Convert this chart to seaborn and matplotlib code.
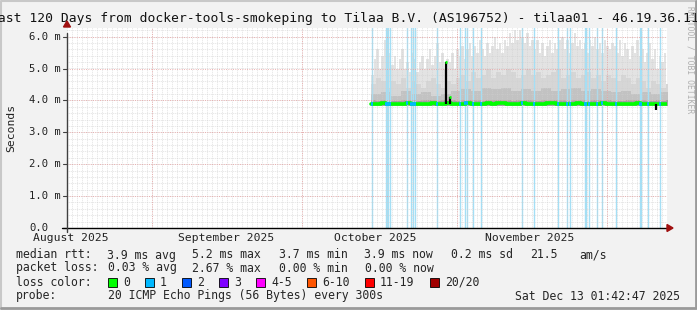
import matplotlib
matplotlib.use("Agg")
import numpy as np
import pandas as pd
import seaborn as sns
import matplotlib.pyplot as plt
from matplotlib.patches import Rectangle, Polygon
from matplotlib.lines import Line2D

# ---------------- data ----------------
title = "Last 120 Days from docker-tools-smokeping to Tilaa B.V. (AS196752) - tilaa01 - 46.19.36.115"
y_ticks = [0, 1, 2, 3, 4, 5, 6]
y_tick_labels = ["0.0", "1.0 m", "2.0 m", "3.0 m", "4.0 m", "5.0 m", "6.0 m"]
# days since window start (Aug 15 01:42)
month_starts = [16.93, 46.93, 77.93, 107.93]
month_labels = ["August 2025", "September 2025", "October 2025", "November 2025"]
month_label_days = [0.8, 31.8, 61.7, 92.6]

data_start = 60.8
# smoke envelope (ms), half-day bins from data_start
smoke_top = [4.8, 5.3, 5.6, 5.0, 5.4, 5.9, 5.2, 5.5, 5.1, 5.4, 5.0, 5.3, 5.6, 5.0, 5.2, 4.9, 5.5,
             5.3, 4.9, 5.2, 5.4, 5.0, 5.3, 5.6, 5.1, 5.4, 5.8, 5.2, 5.5, 5.0, 5.3,
             5.2, 5.5, 5.0, 5.6, 5.4, 5.7, 5.3, 5.6, 5.8, 5.4, 5.7, 5.5, 5.9, 5.6, 5.4, 5.8,
             5.5, 5.7, 6.0, 5.6, 5.8, 5.5, 5.9, 5.7, 6.1, 5.8,
             6.2, 5.9, 6.2, 6.0, 5.8, 6.1, 5.7, 5.9,
             5.6, 5.9, 5.5, 5.8, 5.4, 5.7, 5.9, 5.5, 5.8, 5.6, 5.9,
             6.0, 5.6, 5.9, 5.5, 5.8, 6.1, 5.7, 5.9, 5.6, 5.8, 5.5, 5.9, 5.7, 6.0, 5.6, 5.8,
             5.5, 5.9, 5.7, 5.6, 5.8,
             5.7, 5.5, 5.9, 5.4, 5.8, 5.6, 5.3, 5.7, 5.5, 5.9, 5.4, 5.6, 5.2, 5.5, 5.8, 5.3,
             5.6, 5.0, 5.4, 5.2, 5.5]
# denser smoke, one-day bins from data_start
smoke_mid = [4.5, 4.7, 4.6, 4.4, 4.6, 4.5, 4.7, 4.4, 4.6, 4.5, 4.4, 4.6, 4.7, 4.5, 4.4, 4.6, 4.5,
             4.7, 4.8, 4.6, 4.9, 4.7, 4.8, 5.0, 4.7, 4.9, 4.8, 5.0, 4.9, 4.7, 4.8, 5.0,
             4.8, 4.9, 4.7, 4.8, 4.9, 5.0, 4.7, 4.8, 4.9, 4.7, 4.8, 4.9, 4.7, 4.8, 4.6,
             4.8, 4.7, 4.6, 4.8, 4.7, 4.5, 4.7, 4.6, 4.4, 4.6, 4.5, 4.4, 4.5]
# inner smoke, two-day bins from data_start
smoke_low = [4.20, 4.25, 4.15, 4.30, 4.20, 4.25, 4.15, 4.20,
             4.30, 4.35, 4.30, 4.40, 4.35, 4.40, 4.30, 4.35, 4.30, 4.40, 4.30, 4.35, 4.40, 4.30, 4.35,
             4.30, 4.25, 4.30, 4.20, 4.25, 4.20, 4.25]
smoke_bottom = 3.82
# daily median rtt (ms) from data_start
median_rtt = [3.90, 3.89, 3.91, 3.90, 3.88, 3.89, 3.90, 3.91, 3.90, 3.89,
              3.90, 3.90, 3.91, 3.89, 3.90, 3.92, 3.90, 3.89, 3.90, 3.91,
              3.90, 3.90, 3.89, 3.91, 3.90, 3.92, 3.91, 3.90, 3.89, 3.90,
              3.91, 3.90, 3.90, 3.89, 3.90, 3.91, 3.92, 3.90, 3.90, 3.89,
              3.90, 3.91, 3.90, 3.89, 3.90, 3.90, 3.91, 3.90, 3.89, 3.88,
              3.89, 3.90, 3.90, 3.91, 3.90, 3.89, 3.88, 3.90, 3.89, 3.90]
median_spike_days = [75.8, 76.6, 117.8]
median_spike_vals = [5.2, 4.1, 3.7]
dark_spike_days = [69.6, 103.6]
dark_spike_tops = [6.2, 5.85]
# days with packet loss (1/20)
loss_days = [61.0, 63.8, 64.0, 64.2, 64.6, 68.0, 68.8, 69.2, 69.6, 74.0, 78.6, 79.6, 80.0,
             81.2, 82.8, 91.0, 93.4, 98.2, 100.0, 100.6, 103.6, 103.8, 104.4, 106.0, 107.0,
             109.8, 114.6, 114.8, 116.2, 118.6]

loss_colors = ["#00ff00", "#00b8ff", "#0059ff", "#7e00ff", "#ff00ff", "#ff5500", "#ff0000", "#a10000"]
loss_names = ["0", "1", "2", "3", "4-5", "6-10", "11-19", "20/20"]

stats_rtt = ["3.9 ms avg", "5.2 ms max", "3.7 ms min", "3.9 ms now", "0.2 ms sd", "21.5", "am/s"]
stats_loss = ["0.03 % avg", "2.67 % max", "0.00 % min", "0.00 % now"]
probe_text = "20 ICMP Echo Pings (56 Bytes) every 300s"
stamp = "Sat Dec 13 01:42:47 2025"

# ---------------- figure ----------------
sns.set_theme(style="white")
plt.rcParams["font.family"] = ["DejaVu Sans Mono", "DejaVu Sans"]

W, H = 697, 310
fig = plt.figure(figsize=(W / 100, H / 100), dpi=100)
fig.patch.set_facecolor("#f2f2f2")

def fx(px):
    return px / W

def fy(py):
    return 1 - py / H

L, R, T, B = 67, 667, 28, 228
ppm = 31.9
ax = fig.add_axes([fx(L), fy(B), (R - L) / W, (B - T) / H])
ax.set_facecolor("white")
ax.set_xlim(0, 120)
ax.set_ylim(0, (B - T) / ppm)
for s in ax.spines.values():
    s.set_visible(False)
ax.set_xticks([])
ax.set_yticks([])

# grid
days = np.arange(0, 121, 1)
ax.vlines(days, 0, 7, colors="#cfcfcf", lw=0.6, linestyles=(0, (0.8, 1.6)), zorder=4)
for yv in np.arange(0.2, 6.3, 0.2):
    ax.axhline(yv, color="#cfcfcf", lw=0.6, ls=(0, (0.8, 1.6)), zorder=4)
ax.vlines(month_starts, 0, 7, colors="#e8a0a0", lw=0.7, linestyles=(0, (0.8, 1.6)), zorder=4)
for yv in y_ticks[1:]:
    ax.axhline(yv, color="#e8a0a0", lw=0.7, ls=(0, (0.8, 1.6)), zorder=4)

# smoke
top = np.array(smoke_top)
edges = data_start + 0.5 * np.arange(len(top) + 1)
ax.fill_between(edges, smoke_bottom, np.append(top, top[-1]), step="post", color="#e3e3e3", lw=0, zorder=1)
mid = np.array(smoke_mid)
edges1 = data_start + 1.0 * np.arange(len(mid) + 1)
ax.fill_between(edges1, smoke_bottom, np.append(mid, mid[-1]), step="post", color="#d6d6d6", lw=0, zorder=1.1)
low = np.array(smoke_low)
edges2 = data_start + 2.0 * np.arange(len(low) + 1)
ax.fill_between(edges2, smoke_bottom, np.append(low, low[-1]), step="post", color="#c2c2c2", lw=0, zorder=1.2)
med = np.array(median_rtt)
medx = data_start + np.arange(len(med) + 1)
ax.fill_between(medx, med.min() - 0.05, np.append(med, med[-1]) + 0.1, step="post", color="#a0a0a0", lw=0, zorder=1.3)
ax.vlines(dark_spike_days, 3.9, dark_spike_tops, colors="#777777", lw=0.8, zorder=1.4)

# loss bars
ax.vlines(loss_days, 0, 7, colors="#a4dff5", lw=1.0, zorder=2)

# median
df = pd.DataFrame({"day": medx, "rtt": np.append(med, med[-1])})
sns.lineplot(data=df, x="day", y="rtt", ax=ax, color=loss_colors[0], lw=2.6,
             drawstyle="steps-post", zorder=5, legend=False)
loss_med = np.interp(loss_days, medx[:-1], med)
ax.hlines(loss_med, np.array(loss_days) - 0.25, np.array(loss_days) + 0.25, colors=loss_colors[1], lw=2.6, zorder=5.1)
ax.vlines(median_spike_days, 3.9, median_spike_vals, colors="black", lw=1.6, zorder=5.2)
ax.hlines(median_spike_vals[:2], np.array(median_spike_days[:2]) - 0.15, np.array(median_spike_days[:2]) + 0.15,
          colors=loss_colors[0], lw=2.0, zorder=5.3)
ax.set_xlabel("")
ax.set_ylabel("")

# axes lines and arrows
ax.add_line(Line2D([-1.0, 120.6], [0, 0], color="black", lw=1.0, clip_on=False, zorder=6))
ax.add_line(Line2D([0, 0], [-0.13, 6.1], color="#404040", lw=1.0, clip_on=False, zorder=6))
fig.patches.append(Polygon([[fx(667), fy(224.5)], [fx(667), fy(231.5)], [fx(673), fy(228)]],
                           closed=True, transform=fig.transFigure, color="#a01010", zorder=7))
fig.patches.append(Polygon([[fx(63.5), fy(27)], [fx(70.5), fy(27)], [fx(67), fy(21)]],
                           closed=True, transform=fig.transFigure, color="#a01010", zorder=7))

# y tick labels
ytr = ax.get_yaxis_transform()
for v, lab in zip(y_ticks, y_tick_labels):
    ax.text(-38 / 600, v, lab, transform=ytr, ha="left", va="center", fontsize=7.6, color="#222222")
    ax.add_line(Line2D([-4 / 600, 0], [v, v], transform=ytr, color="#404040", lw=0.8, clip_on=False))

# month labels
xtr = ax.get_xaxis_transform()
for d, lab in zip(month_label_days, month_labels):
    ax.text(d, -10 / 200, lab, transform=xtr, ha="center", va="center", fontsize=8.2, color="#222222")

ax.text(-56 / 600, 0.5, "Seconds", transform=ax.transAxes, rotation=90, ha="center", va="center",
        fontsize=8.2, color="#222222")

# title & watermark
fig.text(0.5, fy(18.5), title, ha="center", va="center", fontsize=9.4, color="#111111")
fig.text(fx(690), fy(6), "RRDTOOL / TOBI OETIKER", rotation=270, ha="center", va="top",
         fontsize=5.8, color="#b0b0b0")

# legend text
fs = 8.3
row_y = [255, 268, 282, 296]
fig.text(fx(16), fy(row_y[0]), "median rtt:", ha="left", va="center", fontsize=fs)
for xp, t in zip([107, 192, 279, 364, 451, 530, 579], stats_rtt):
    fig.text(fx(xp), fy(row_y[0]), t, ha="left", va="center", fontsize=fs)
fig.text(fx(16), fy(row_y[1]), "packet loss:", ha="left", va="center", fontsize=fs)
for xp, t in zip([107.5, 192, 279, 365], stats_loss):
    fig.text(fx(xp), fy(row_y[1]), t, ha="left", va="center", fontsize=fs)
fig.text(fx(16), fy(row_y[2]), "loss color:", ha="left", va="center", fontsize=fs)
sq_x = [108, 145, 182, 219, 256, 307, 365, 430]
for xp, c, n in zip(sq_x, loss_colors, loss_names):
    fig.patches.append(Rectangle((fx(xp), fy(row_y[2] + 4.5)), 9 / W, 9 / H, transform=fig.transFigure,
                                 facecolor=c, edgecolor="black", lw=0.6))
    fig.text(fx(xp + 15), fy(row_y[2]), n, ha="left", va="center", fontsize=fs)
fig.text(fx(16), fy(row_y[3]), "probe:", ha="left", va="center", fontsize=fs)
fig.text(fx(107.5), fy(row_y[3]), probe_text, ha="left", va="center", fontsize=fs)
fig.text(fx(680), fy(row_y[3]), stamp, ha="right", va="center", fontsize=fs)

# 3D frame
fig.add_artist(Line2D([fx(0.5), fx(0.5), fx(696)], [fy(309), fy(0.5), fy(0.5)], transform=fig.transFigure,
                      color="#c8c8c8", lw=1.5))
fig.add_artist(Line2D([fx(1), fx(695.5), fx(695.5)], [fy(308), fy(308), fy(1)], transform=fig.transFigure,
                      color="#9a9a9a", lw=2.0))

fig.savefig("out.png", dpi=100, facecolor=fig.get_facecolor())
